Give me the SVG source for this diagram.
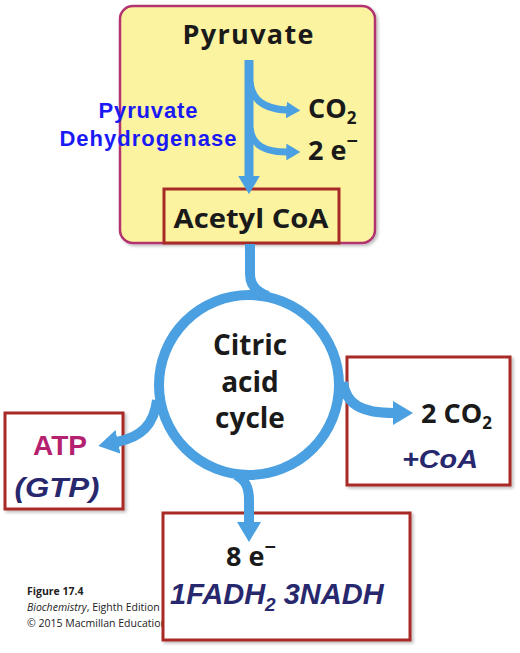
<svg xmlns="http://www.w3.org/2000/svg" width="520" height="653" viewBox="0 0 520 653">
<style>
.blk{font-family:"Open Sans","Liberation Sans",sans-serif;font-weight:700;fill:#1a1a1a}
.ar{font-family:"Liberation Sans",Arial,sans-serif;font-weight:700}
.nav{fill:#27286e;font-style:italic}
.box{fill:#fff;stroke:#a82a26;stroke-width:3}
.flow{fill:none;stroke:#4aa0e0;stroke-linecap:butt}
.cap{font-family:"Open Sans","Liberation Sans",sans-serif;font-size:10.5px;fill:#222}
</style>
<defs>
<filter id="sh" x="-10%" y="-10%" width="130%" height="130%">
<feDropShadow dx="2" dy="2" stdDeviation="1.5" flood-color="#000" flood-opacity="0.25"/>
</filter>
<marker id="hd" markerUnits="strokeWidth" markerWidth="2" markerHeight="2.4" viewBox="0 0 20 24" refX="1" refY="12" orient="auto">
<path d="M0,0 L20,12 L0,24 z" fill="#4aa0e0"/>
</marker>
<linearGradient id="gv" gradientUnits="userSpaceOnUse" x1="0" y1="58" x2="0" y2="180">
<stop offset="0" stop-color="#e4f1fb"/>
<stop offset="1" stop-color="#4aa0e0"/>
</linearGradient>
<linearGradient id="gb" gradientUnits="userSpaceOnUse" x1="250" y1="0" x2="290" y2="0">
<stop offset="0" stop-color="#b5d9f5"/>
<stop offset="1" stop-color="#4aa0e0"/>
</linearGradient>
<linearGradient id="gt" gradientUnits="userSpaceOnUse" x1="0" y1="243" x2="0" y2="292">
<stop offset="0" stop-color="#cfe6f8"/>
<stop offset="1" stop-color="#4aa0e0"/>
</linearGradient>
</defs>
<rect width="520" height="653" fill="#fff"/>

<g id="pdh-box">
<rect x="120" y="6" width="255" height="237" rx="13" fill="#fcf3a0" stroke="#b3306f" stroke-width="2.5" filter="url(#sh)"/>
<text class="blk" x="248" y="44" font-size="27" text-anchor="middle" textLength="131">Pyruvate</text>
<text class="ar" x="148" y="118" font-size="22" fill="#1a1af5" text-anchor="middle" textLength="99">Pyruvate</text>
<text class="ar" x="148" y="146" font-size="22" fill="#1a1af5" text-anchor="middle" textLength="177">Dehydrogenase</text>
<text class="blk" x="308" y="118" font-size="27">CO<tspan font-size="17" dy="6">2</tspan></text>
<text class="blk" x="308" y="160" font-size="27">2 e<tspan font-size="20" dy="-12">−</tspan></text>
</g>

<g id="acetyl-coa">
<rect x="164" y="189" width="175" height="54" fill="#fcf3a0" stroke="#a82a26" stroke-width="3"/>
<text class="blk" x="251" y="228" font-size="27" text-anchor="middle" textLength="155" lengthAdjust="spacingAndGlyphs">Acetyl CoA</text>
</g>

<g id="citric-acid-cycle">
<circle cx="249" cy="385" r="90" fill="#fff" stroke="#4aa0e0" stroke-width="10"/>
<text class="blk" x="250" y="355" font-size="28" text-anchor="middle">Citric</text>
<text class="blk" x="250" y="392" font-size="28" text-anchor="middle">acid</text>
<text class="blk" x="250" y="428" font-size="28" text-anchor="middle">cycle</text>
</g>

<g id="co2-box">
<rect class="box" x="347" y="357" width="163" height="128" filter="url(#sh)"/>
<text class="blk" x="421" y="423" font-size="27">2 CO<tspan font-size="17" dy="6">2</tspan></text>
<text class="ar nav" x="440" y="468" font-size="26" text-anchor="middle" textLength="76" lengthAdjust="spacingAndGlyphs">+CoA</text>
</g>

<g id="atp-box">
<rect class="box" x="5" y="413" width="118" height="96" filter="url(#sh)"/>
<text class="ar" x="60" y="455" font-size="28" fill="#b4216f" text-anchor="middle">ATP</text>
<text class="ar nav" x="57" y="497" font-size="27" text-anchor="middle" textLength="85" lengthAdjust="spacingAndGlyphs">(GTP)</text>
</g>

<g id="caption">
<text class="cap" x="27" y="595" font-weight="700">Figure 17.4</text>
<text class="cap" x="27" y="611"><tspan font-style="italic">Biochemistry</tspan>, Eighth Edition</text>
<text class="cap" x="27" y="627">© 2015 Macmillan Education</text>
</g>

<g id="electrons-box">
<rect class="box" x="163" y="513" width="247" height="127" filter="url(#sh)"/>
<text class="blk" x="226" y="566" font-size="27">8 e<tspan font-size="20" dy="-12">−</tspan></text>
<text class="ar nav" x="170" y="604" font-size="29">1FADH<tspan font-size="19" dy="7">2</tspan><tspan dy="-7"> 3NADH</tspan></text>
</g>

<g id="connectors">
<path class="flow" d="M249,60 L249,177" stroke="url(#gv)" stroke-width="9" marker-end="url(#hd)"/>
<path class="flow" d="M250,82 C252,100 264,109 287,110" stroke="url(#gb)" stroke-width="7" marker-end="url(#hd)"/>
<path class="flow" d="M250,128 C252,145 264,152 287,152" stroke="url(#gb)" stroke-width="7" marker-end="url(#hd)"/>
<path class="flow" d="M250,244 L250,274 C250,285 256,292 268,296" stroke="url(#gt)" stroke-width="10"/>
<path class="flow" d="M343,382 C346,405 362,413 394,413" stroke-width="10" marker-end="url(#hd)"/>
<path class="flow" d="M157,400 C154,425 141,437 117,442" stroke-width="10" marker-end="url(#hd)"/>
<path class="flow" d="M236,475 C246,480 249,488 249,500 L249,523" stroke-width="10" marker-end="url(#hd)"/>
</g>
</svg>
